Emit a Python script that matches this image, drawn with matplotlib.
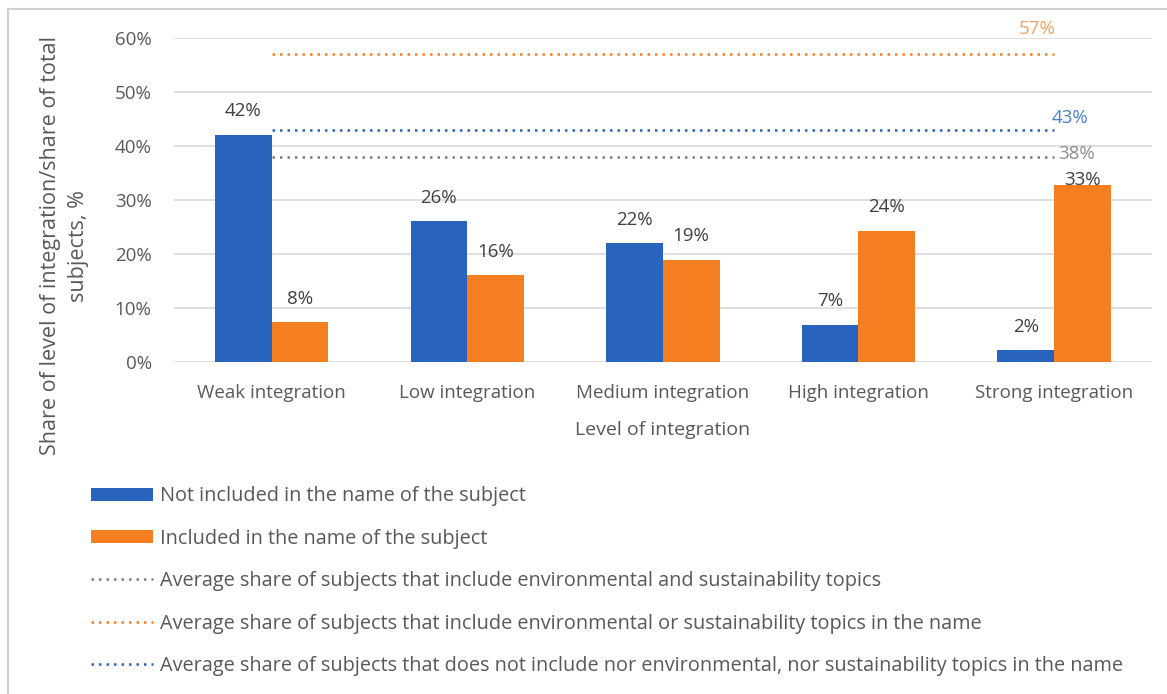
import matplotlib.pyplot as plt
from matplotlib.patches import Rectangle
import numpy as np

categories = ['Weak integration', 'Low integration', 'Medium integration',
              'High integration', 'Strong integration']
not_included = [42.1, 26.1, 22.0, 6.9, 2.2]
included = [7.4, 16.1, 18.9, 24.3, 32.8]
not_included_labels = ['42%', '26%', '22%', '7%', '2%']
included_labels = ['8%', '16%', '19%', '24%', '33%']

avg_all = 38
avg_named = 57
avg_not_named = 43

series_names = ['Not included in the name of the subject',
                'Included in the name of the subject',
                'Average share of subjects that include environmental and sustainability topics',
                'Average share of subjects that include environmental or sustainability topics in the name',
                'Average share of subjects that does not include nor environmental, nor sustainability topics in the name']

blue = '#2864be'
orange = '#f47e20'
gray_line = '#7f7f7f'
txt = '#595959'
fs = 13.5

plt.rcParams['font.family'] = ['Open Sans', 'DejaVu Sans']

fig = plt.figure(figsize=(11.67, 6.94), dpi=100)
ax = fig.add_axes([0.149, 0.478, 0.838, 0.467])

x = np.arange(len(categories))
w = 0.29
b1 = ax.bar(x - w / 2, not_included, w, color=blue, label=series_names[0], zorder=3)
b2 = ax.bar(x + w / 2, included, w, color=orange, label=series_names[1], zorder=3)

for rect, lab in zip(b1, not_included_labels):
    ax.text(rect.get_x() + rect.get_width() / 2, rect.get_height() + 4.4, lab,
            ha='center', va='center', fontsize=fs, color='#404040', zorder=4)
for i, (rect, lab) in enumerate(zip(b2, included_labels)):
    off = 0.9 if i == len(included) - 1 else 4.4
    ax.text(rect.get_x() + rect.get_width() / 2, rect.get_height() + off, lab,
            ha='center', va='center', fontsize=fs, color='#404040', zorder=4)

l1, = ax.plot([x[0], x[-1]], [avg_all, avg_all], ls=(0, (1, 2)), color=gray_line, lw=1.8,
              label=series_names[2], zorder=2)
l2, = ax.plot([x[0], x[-1]], [avg_named, avg_named], ls=(0, (1, 2)), color=orange, lw=1.8,
              label=series_names[3], zorder=2)
l3, = ax.plot([x[0], x[-1]], [avg_not_named, avg_not_named], ls=(0, (1, 2)), color=blue, lw=1.8,
              label=series_names[4], zorder=2)

ax.text(x[-1] + 0.02, avg_all + 0.6, f'{avg_all}%', color='#8c8c8c', fontsize=fs, va='center', ha='left')
ax.text(x[-1] - 0.18, avg_named + 4.7, f'{avg_named}%', color='#f4a261', fontsize=fs, va='center', ha='left')
ax.text(x[-1] - 0.01, avg_not_named + 2.2, f'{avg_not_named}%', color='#4a7fd0', fontsize=fs, va='center', ha='left')

ax.set_xlim(-0.5, 4.5)
ax.set_ylim(0, 60)
ax.set_yticks(range(0, 61, 10))
ax.set_yticklabels([f'{v}%' for v in range(0, 61, 10)])
ax.set_xticks(x)
ax.set_xticklabels(categories)
ax.tick_params(axis='both', length=0, labelsize=fs, labelcolor=txt)
ax.tick_params(axis='y', pad=16)
ax.tick_params(axis='x', pad=16)
ax.grid(axis='y', color='#d9d9d9', lw=1.2, zorder=0)
for s in ax.spines.values():
    s.set_visible(False)

ax.set_xlabel('Level of integration', fontsize=14, color=txt, labelpad=13)
ax.set_ylabel('Share of level of integration/share of total\nsubjects, %', fontsize=15.5,
              color=txt, linespacing=1.45)
ax.yaxis.set_label_coords(-0.087, 0.36)

handles = [b1, b2, l1, l2, l3]
fig.legend(handles, series_names, loc='upper left', bbox_to_anchor=(0.063, 0.325),
           frameon=False, fontsize=14.3, labelcolor=txt, handlelength=3.1,
           handleheight=0.65, labelspacing=1.13, handletextpad=0.35)

fig.patches.append(Rectangle((0.007, -0.01), 1.2, 0.997, transform=fig.transFigure,
                             fill=False, edgecolor='#d0d0d0', lw=1.5))

fig.savefig('out.png', dpi=100)
